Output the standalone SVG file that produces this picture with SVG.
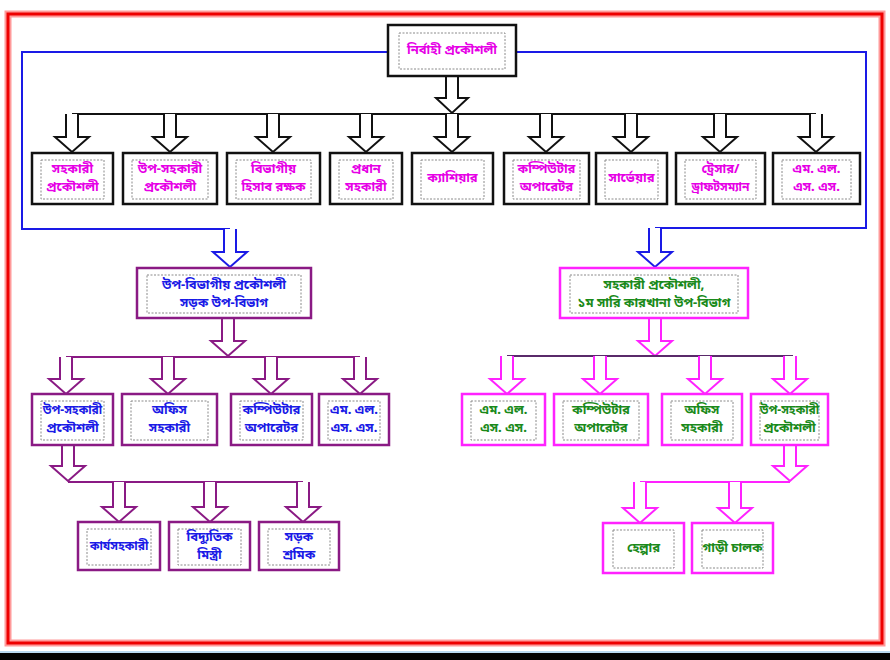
<svg xmlns="http://www.w3.org/2000/svg" width="890" height="660" viewBox="0 0 890 660">
<style>
text{font-family:"Noto Sans Bengali","Noto Sans","Lohit Bengali","FreeSans",sans-serif;font-weight:bold;font-size:13px;text-anchor:middle;dominant-baseline:middle}
.sm{font-size:12px}
.bk{fill:#fff;stroke:#111;stroke-width:2.5}
.pu{fill:#fff;stroke:#8a1a84;stroke-width:2.5}
.mg{fill:#fff;stroke:#ff22ff;stroke-width:2.5}
.in{fill:none;stroke:#8a8a8a;stroke-width:1;stroke-dasharray:2 1.5}
.tm{fill:#e600e6}
.tb{fill:#1a1ae6}
.tg{fill:#1a8a1a}
.ab{fill:#fff;stroke:#111;stroke-width:2}
.abl{fill:#fff;stroke:#1a1ae6;stroke-width:2}
.apu{fill:#fff;stroke:#8a1a84;stroke-width:2}
.amg{fill:#fff;stroke:#ff22ff;stroke-width:2}
.ln{fill:none;stroke-width:2}
</style>
<rect x="0" y="0" width="890" height="660" fill="#fff"/>
<rect x="8" y="14" width="874" height="629" fill="none" stroke="#ff9a9a" stroke-width="7"/>
<rect x="8" y="14" width="874" height="629" fill="none" stroke="#ee0000" stroke-width="3"/>
<rect x="0" y="651" width="890" height="2" fill="#b8d8f0"/>
<rect x="0" y="653" width="890" height="7" fill="#000"/>

<g id="connectors">
<polyline class="ln" stroke="#1a1ae6" points="388,52 22,52 22,229 230,229"/>
<polyline class="ln" stroke="#1a1ae6" points="516,52 866,52 866,228 655,228"/>
<line class="ln" stroke="#111" x1="72" y1="114" x2="816" y2="114"/>
<path class="ab" d="M446 77 V98 H436 L452 113 L468 98 H458 V77"/>
<path class="ab" d="M66 114 V137 H55 L72 152 L89 137 H78 V114"/>
<path class="ab" d="M164 114 V137 H153 L170 152 L187 137 H176 V114"/>
<path class="ab" d="M267 114 V137 H256 L273 152 L290 137 H279 V114"/>
<path class="ab" d="M360 114 V137 H349 L366 152 L383 137 H372 V114"/>
<path class="ab" d="M446 114 V137 H435 L452 152 L469 137 H458 V114"/>
<path class="ab" d="M540 114 V137 H529 L546 152 L563 137 H552 V114"/>
<path class="ab" d="M625 114 V137 H614 L631 152 L648 137 H637 V114"/>
<path class="ab" d="M714 114 V137 H703 L720 152 L737 137 H726 V114"/>
<path class="ab" d="M810 114 V137 H799 L816 152 L833 137 H822 V114"/>
<path class="abl" d="M224 229 V252 H213 L230 267 L247 252 H236 V229"/>
<path class="abl" d="M649 228 V252 H638 L655 267 L672 252 H661 V228"/>
<path class="apu" d="M222 318 V341 H211 L228 356 L245 341 H234 V318"/>
<line class="ln" stroke="#8a1a84" x1="66" y1="357" x2="360" y2="357"/>
<path class="apu" d="M60 357 V379 H49 L66 394 L83 379 H72 V357"/>
<path class="apu" d="M162 357 V379 H151 L168 394 L185 379 H174 V357"/>
<path class="apu" d="M265 357 V379 H254 L271 394 L288 379 H277 V357"/>
<path class="apu" d="M354 357 V379 H343 L360 394 L377 379 H366 V357"/>
<path class="apu" d="M62 445 V466 H51 L68 481 L85 466 H74 V445"/>
<line class="ln" stroke="#8a1a84" x1="68" y1="482" x2="303" y2="482"/>
<path class="apu" d="M113 482 V507 H102 L119 522 L136 507 H125 V482"/>
<path class="apu" d="M204 482 V507 H193 L210 522 L227 507 H216 V482"/>
<path class="apu" d="M297 482 V507 H286 L303 522 L320 507 H309 V482"/>
<path class="amg" d="M649 318 V341 H638 L655 356 L672 341 H661 V318"/>
<line class="ln" stroke="#5a2a6a" x1="507" y1="356" x2="793" y2="356"/>
<path class="amg" d="M501 356 V379 H490 L507 394 L524 379 H513 V356"/>
<path class="amg" d="M594 356 V379 H583 L600 394 L617 379 H606 V356"/>
<path class="amg" d="M699 356 V379 H688 L705 394 L722 379 H711 V356"/>
<path class="amg" d="M784 356 V379 H773 L790 394 L807 379 H796 V356"/>
<path class="amg" d="M784 445 V466 H773 L790 481 L807 466 H796 V445"/>
<line class="ln" stroke="#ff22ff" x1="640" y1="482" x2="790" y2="482"/>
<path class="amg" d="M634 482 V508 H623 L640 523 L657 508 H646 V482"/>
<path class="amg" d="M729 482 V508 H718 L735 523 L752 508 H741 V482"/>
</g>

<g id="n-top"><rect class="bk" x="388" y="25" width="128" height="51"/><rect class="in" x="399" y="33" width="106" height="36"/><text class="tm" x="452" y="51">নির্বাহী প্রকৌশলী</text></g>

<g id="n1"><rect class="bk" x="32" y="153" width="81" height="51"/><rect class="in" x="41" y="160" width="63" height="39"/><text class="tm" x="72.5" y="170">সহকারী</text><text class="tm" x="72.5" y="188">প্রকৌশলী</text></g>
<g id="n2"><rect class="bk" x="123" y="153" width="94" height="51"/><rect class="in" x="132" y="160" width="76" height="39"/><text class="tm" x="170" y="170">উপ-সহকারী</text><text class="tm" x="170" y="188">প্রকৌশলী</text></g>
<g id="n3"><rect class="bk" x="227" y="153" width="93" height="51"/><rect class="in" x="236" y="160" width="75" height="39"/><text class="tm" x="273.5" y="170">বিভাগীয়</text><text class="tm" x="273.5" y="188">হিসাব রক্ষক</text></g>
<g id="n4"><rect class="bk" x="330" y="153" width="72" height="51"/><rect class="in" x="339" y="160" width="54" height="39"/><text class="tm" x="366" y="170">প্রধান</text><text class="tm" x="366" y="188">সহকারী</text></g>
<g id="n5"><rect class="bk" x="412" y="153" width="81" height="51"/><rect class="in" x="421" y="160" width="63" height="39"/><text class="tm" x="452.5" y="179">ক্যাশিয়ার</text></g>
<g id="n6"><rect class="bk" x="504" y="153" width="85" height="51"/><rect class="in" x="513" y="160" width="67" height="39"/><text class="tm" x="546.5" y="170">কম্পিউটার</text><text class="tm" x="546.5" y="188">অপারেটর</text></g>
<g id="n7"><rect class="bk" x="596" y="153" width="71" height="51"/><rect class="in" x="605" y="160" width="53" height="39"/><text class="tm" x="631.5" y="179">সার্ভেয়ার</text></g>
<g id="n8"><rect class="bk" x="676" y="153" width="89" height="51"/><rect class="in" x="685" y="160" width="71" height="39"/><text class="tm" x="720.5" y="170">ট্রেসার/</text><text class="tm sm" x="720.5" y="188">ড্রাফটসম্যান</text></g>
<g id="n9"><rect class="bk" x="773" y="153" width="87" height="51"/><rect class="in" x="782" y="160" width="69" height="39"/><text class="tm" x="816.5" y="170">এম. এল.</text><text class="tm" x="816.5" y="188">এস. এস.</text></g>

<g id="l-head"><rect class="pu" x="137" y="268" width="174" height="50"/><rect class="in" x="147" y="275" width="154" height="38"/><text class="tb" x="224" y="286">উপ-বিভাগীয় প্রকৌশলী</text><text class="tb" x="224" y="304">সড়ক উপ-বিভাগ</text></g>
<g id="r-head"><rect class="mg" x="560" y="268" width="188" height="50"/><rect class="in" x="570" y="275" width="168" height="38"/><text class="tg" x="654" y="286">সহকারী প্রকৌশলী,</text><text class="tg" x="654" y="304">১ম সারি কারখানা উপ-বিভাগ</text></g>

<g id="l1"><rect class="pu" x="32" y="394" width="81" height="51"/><rect class="in" x="41" y="401" width="63" height="39"/><text class="tb sm" x="72.5" y="411">উপ-সহকারী</text><text class="tb" x="72.5" y="429">প্রকৌশলী</text></g>
<g id="l2"><rect class="pu" x="122" y="394" width="95" height="51"/><rect class="in" x="131" y="401" width="77" height="39"/><text class="tb" x="169.5" y="411">অফিস</text><text class="tb" x="169.5" y="429">সহকারী</text></g>
<g id="l3"><rect class="pu" x="231" y="394" width="81" height="51"/><rect class="in" x="240" y="401" width="63" height="39"/><text class="tb" x="271.5" y="411">কম্পিউটার</text><text class="tb" x="271.5" y="429">অপারেটর</text></g>
<g id="l4"><rect class="pu" x="319" y="394" width="70" height="51"/><rect class="in" x="328" y="401" width="52" height="39"/><text class="tb" x="354" y="411">এম. এল.</text><text class="tb" x="354" y="429">এস. এস.</text></g>

<g id="l5"><rect class="pu" x="78" y="522" width="82" height="48"/><rect class="in" x="87" y="529" width="64" height="36"/><text class="tb sm" x="119" y="547">কার্যসহকারী</text></g>
<g id="l6"><rect class="pu" x="169" y="522" width="81" height="48"/><rect class="in" x="178" y="529" width="63" height="36"/><text class="tb" x="209.5" y="538">বিদ্যুতিক</text><text class="tb" x="209.5" y="556">মিস্ত্রী</text></g>
<g id="l7"><rect class="pu" x="259" y="522" width="80" height="48"/><rect class="in" x="268" y="529" width="62" height="36"/><text class="tb" x="299" y="538">সড়ক</text><text class="tb" x="299" y="556">শ্রমিক</text></g>

<g id="r1"><rect class="mg" x="462" y="394" width="83" height="51"/><rect class="in" x="471" y="401" width="65" height="39"/><text class="tg" x="503.5" y="411">এম. এল.</text><text class="tg" x="503.5" y="429">এস. এস.</text></g>
<g id="r2"><rect class="mg" x="554" y="394" width="94" height="51"/><rect class="in" x="563" y="401" width="76" height="39"/><text class="tg" x="601" y="411">কম্পিউটার</text><text class="tg" x="601" y="429">অপারেটর</text></g>
<g id="r3"><rect class="mg" x="662" y="394" width="80" height="51"/><rect class="in" x="671" y="401" width="62" height="39"/><text class="tg" x="702" y="411">অফিস</text><text class="tg" x="702" y="429">সহকারী</text></g>
<g id="r4"><rect class="mg" x="751" y="394" width="77" height="51"/><rect class="in" x="760" y="401" width="59" height="39"/><text class="tg sm" x="789.5" y="411">উপ-সহকারী</text><text class="tg" x="789.5" y="429">প্রকৌশলী</text></g>

<g id="r5"><rect class="mg" x="603" y="523" width="81" height="50"/><rect class="in" x="613" y="530" width="61" height="38"/><text class="tg" x="643.5" y="549">হেল্পার</text></g>
<g id="r6"><rect class="mg" x="692" y="523" width="81" height="50"/><rect class="in" x="702" y="530" width="61" height="38"/><text class="tg" x="732.5" y="549">গাড়ী চালক</text></g>
</svg>
